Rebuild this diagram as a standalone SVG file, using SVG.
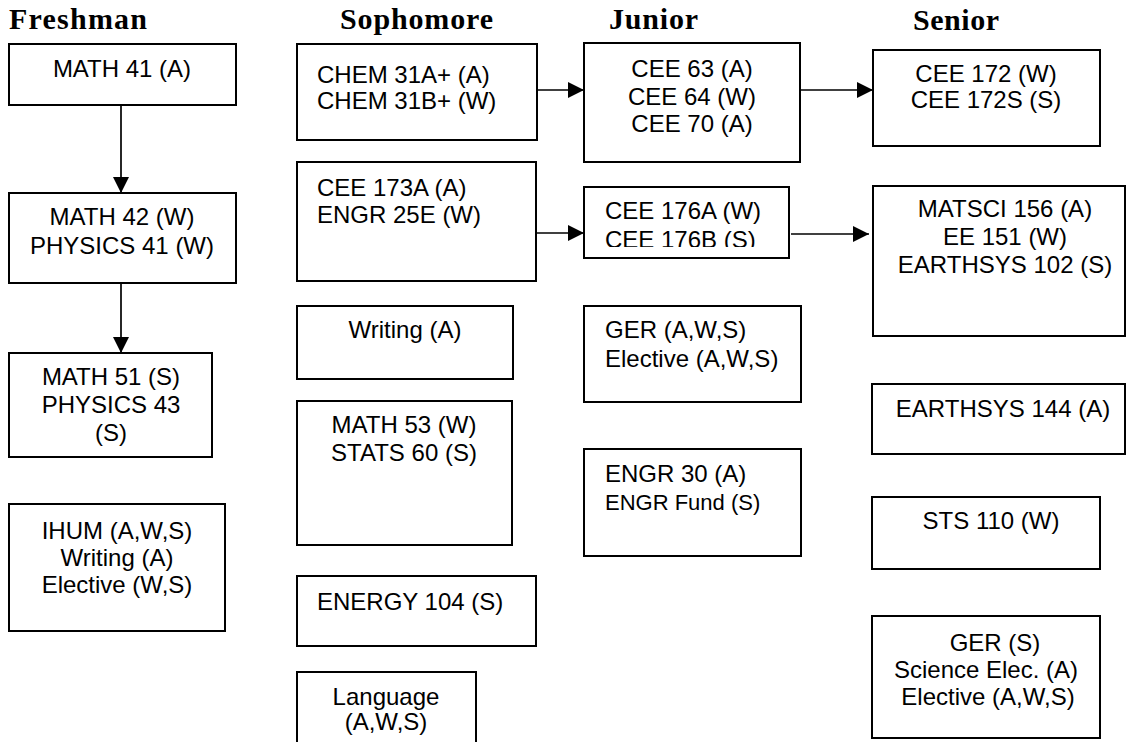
<svg xmlns="http://www.w3.org/2000/svg" width="1127" height="742" viewBox="0 0 1127 742">
  <style>
    .box { fill: #fff; stroke: #000; stroke-width: 2; }
    .hdr { font-family: "Liberation Serif", "Times New Roman", serif; font-weight: bold; font-size: 30px; fill: #000; }
    .t { font-family: "Liberation Sans", Arial, sans-serif; font-size: 24px; fill: #000; }
    .c { text-anchor: middle; }
    .small { font-size: 22px; }
    .link { stroke: #000; stroke-width: 1.7; fill: none; marker-end: url(#arrow); }
  </style>
  <defs>
    <marker id="arrow" markerUnits="userSpaceOnUse" markerWidth="16" markerHeight="16" refX="16" refY="8" orient="auto">
      <path d="M0,0 L16,8 L0,16 z" fill="#000"/>
    </marker>
    <clipPath id="clip176">
      <rect x="584" y="187" width="205" height="60"/>
    </clipPath>
  </defs>

  <rect width="1127" height="742" fill="#fff"/>

  <!-- year headings -->
  <g id="headings">
    <text class="hdr" x="9" y="29" textLength="138">Freshman</text>
    <text class="hdr" x="340" y="29" textLength="153">Sophomore</text>
    <text class="hdr" x="609" y="29" textLength="89">Junior</text>
    <text class="hdr" x="913" y="30" textLength="86">Senior</text>
  </g>

  <!-- Freshman -->
  <g id="math41">
    <rect class="box" x="9" y="44" width="227" height="61"/>
    <text class="t c" x="122" y="77">MATH 41 (A)</text>
  </g>
  <g id="math42">
    <rect class="box" x="9" y="193" width="227" height="90"/>
    <text class="t c" x="122" y="225">MATH 42 (W)</text>
    <text class="t c" x="122" y="254">PHYSICS 41 (W)</text>
  </g>
  <g id="math51">
    <rect class="box" x="9" y="353" width="203" height="104"/>
    <text class="t c" x="111" y="385">MATH 51 (S)</text>
    <text class="t c" x="111" y="413">PHYSICS 43</text>
    <text class="t c" x="111" y="441">(S)</text>
  </g>
  <g id="ihum">
    <rect class="box" x="9" y="504" width="216" height="127"/>
    <text class="t c" x="117" y="539">IHUM (A,W,S)</text>
    <text class="t c" x="117" y="566">Writing (A)</text>
    <text class="t c" x="117" y="593">Elective (W,S)</text>
  </g>

  <!-- Sophomore -->
  <g id="chem31">
    <rect class="box" x="297" y="44" width="240" height="96"/>
    <text class="t" x="317" y="83">CHEM 31A+ (A)</text>
    <text class="t" x="317" y="109">CHEM 31B+ (W)</text>
  </g>
  <g id="cee173a">
    <rect class="box" x="297" y="162" width="239" height="119"/>
    <text class="t" x="317" y="196">CEE 173A (A)</text>
    <text class="t" x="317" y="223">ENGR 25E (W)</text>
  </g>
  <g id="writing">
    <rect class="box" x="297" y="306" width="216" height="73"/>
    <text class="t c" x="405" y="338">Writing (A)</text>
  </g>
  <g id="math53">
    <rect class="box" x="297" y="401" width="215" height="144"/>
    <text class="t c" x="404" y="433">MATH 53 (W)</text>
    <text class="t c" x="404" y="461">STATS 60 (S)</text>
  </g>
  <g id="energy104">
    <rect class="box" x="297" y="576" width="239" height="70"/>
    <text class="t" x="317" y="610">ENERGY 104 (S)</text>
  </g>
  <g id="language">
    <rect class="box" x="297" y="672" width="179" height="82"/>
    <text class="t c" x="386" y="705">Language</text>
    <text class="t c" x="386" y="730">(A,W,S)</text>
  </g>

  <!-- Junior -->
  <g id="cee63">
    <rect class="box" x="584" y="43" width="216" height="119"/>
    <text class="t c" x="692" y="77">CEE 63 (A)</text>
    <text class="t c" x="692" y="104.5">CEE 64 (W)</text>
    <text class="t c" x="692" y="132">CEE 70 (A)</text>
  </g>
  <g id="cee176">
    <rect class="box" x="584" y="187" width="205" height="71"/>
    <g clip-path="url(#clip176)">
      <text class="t" x="605" y="219">CEE 176A (W)</text>
      <text class="t" x="605" y="248">CEE 176B (S)</text>
    </g>
  </g>
  <g id="ger-junior">
    <rect class="box" x="584" y="306" width="217" height="96"/>
    <text class="t" x="605" y="338">GER (A,W,S)</text>
    <text class="t" x="605" y="367">Elective (A,W,S)</text>
  </g>
  <g id="engr30">
    <rect class="box" x="584" y="449" width="217" height="107"/>
    <text class="t" x="605" y="482">ENGR 30 (A)</text>
    <text class="t small" x="605" y="510">ENGR Fund (S)</text>
  </g>

  <!-- Senior -->
  <g id="cee172">
    <rect class="box" x="873" y="50" width="227" height="96"/>
    <text class="t c" x="986" y="82">CEE 172 (W)</text>
    <text class="t c" x="986" y="108">CEE 172S (S)</text>
  </g>
  <g id="matsci156">
    <rect class="box" x="873" y="186" width="252" height="150"/>
    <text class="t c" x="1005" y="217">MATSCI 156 (A)</text>
    <text class="t c" x="1005" y="245">EE 151 (W)</text>
    <text class="t c" x="1005" y="273">EARTHSYS 102 (S)</text>
  </g>
  <g id="earthsys144">
    <rect class="box" x="872" y="384" width="253" height="70"/>
    <text class="t c" x="1003" y="417">EARTHSYS 144 (A)</text>
  </g>
  <g id="sts110">
    <rect class="box" x="872" y="497" width="228" height="72"/>
    <text class="t c" x="991" y="529">STS 110 (W)</text>
  </g>
  <g id="ger-senior">
    <rect class="box" x="872" y="616" width="228" height="122"/>
    <text class="t c" x="995" y="651">GER (S)</text>
    <text class="t c" x="986" y="678">Science Elec. (A)</text>
    <text class="t c" x="988" y="705">Elective (A,W,S)</text>
  </g>

  <!-- prerequisite arrows -->
  <g id="connectors">
    <line class="link" x1="121" y1="105" x2="121" y2="193"/>
    <line class="link" x1="121" y1="283" x2="121" y2="353"/>
    <line class="link" x1="537" y1="90" x2="584" y2="90"/>
    <line class="link" x1="536" y1="233" x2="584" y2="233"/>
    <line class="link" x1="800" y1="90" x2="873" y2="90"/>
    <line class="link" x1="791" y1="234" x2="869" y2="234"/>
  </g>
</svg>
